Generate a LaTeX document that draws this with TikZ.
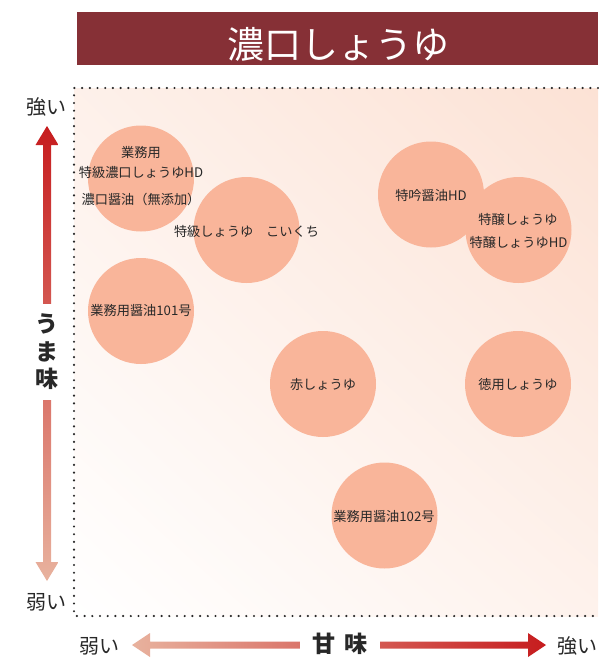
\documentclass[tikz,border=0pt]{standalone}
\usepackage{fontspec}
\setmainfont{Noto Sans CJK JP}
\usepackage{tikz}
\usetikzlibrary{positioning,calc,shadings}
\usepackage{xcolor}
\definecolor{barred}{RGB}{134,48,54}
\definecolor{soypink}{RGB}{249,181,154}
\definecolor{peach}{RGB}{252,226,213}
\definecolor{ink}{RGB}{40,40,40}
\definecolor{strongred}{RGB}{198,28,30}
\definecolor{weakpink}{RGB}{232,178,158}

\begin{document}
\begin{tikzpicture}[x=1pt, y=-1pt,
    soy/.style={circle, fill=soypink, minimum size=106pt, inner sep=0pt},
    brand/.style={text=ink, font=\fontsize{13.2pt}{15pt}\selectfont, inner sep=1pt},
    axislabel/.style={text=ink, font=\fontsize{20pt}{22pt}\selectfont, inner sep=0pt},
    axistitle/.style={fill=white, text=ink, font=\fontsize{23pt}{27.5pt}\selectfont\bfseries}]
            \useasboundingbox (0,0) rectangle (598,661);

            % Title bar
            \fill[barred] (77,12) rectangle (598,65);
            \node[text=white, font=\fontsize{37pt}{40pt}\selectfont] (title) at (338,44) {濃口しょうゆ};

            % Chart area
            \shade[upper right=peach, lower left=white, upper left=peach!50!white, lower right=peach!45!white] (74,88) rectangle (598,616);
            \draw[ink, line width=2.4pt, line cap=round, dash pattern=on 0pt off 7.7pt] (598,88) -- (74,88) -- (74,616) -- (598,616);

            % Circles
            \node[soy] (c1) at (141,178.5) {};
            \node[soy] (c2) at (246.5,230) {};
            \node[soy] (c3) at (141,311) {};
            \node[soy] (c4) at (431,194.5) {};
            \node[soy] (c5) at (518.5,230) {};
            \node[soy] (c6) at (323,384) {};
            \node[soy] (c7) at (518,384) {};
            \node[soy] (c8) at (384.5,515.5) {};

            % Brands
            \node[brand] (gyomu) at (141,153) {業務用};
            \node[brand] (gyomuhd) at (141,172) {特級濃口しょうゆHD};
            \node[brand] (mutenka) at (141,199) {濃口醤油（無添加）};
            \node[brand] (koikuchi) at (246.5,231) {特級しょうゆ\hspace{13pt}こいくち};
            \node[brand] (tokugin) at (431,195) {特吟醤油HD};
            \node[brand] (tokujo) at (518,219) {特醸しょうゆ};
            \node[brand] (tokujohd) at (518.5,242) {特醸しょうゆHD};
            \node[brand] (no101) at (141,311) {業務用醤油101号};
            \node[brand] (aka) at (323,385) {赤しょうゆ};
            \node[brand] (tokuyo) at (518,385) {徳用しょうゆ};
            \node[brand] (no102) at (384,517) {業務用醤油102号};

            % Umami axis
            \coordinate (umaHi) at (47,126);
            \coordinate (umaLo) at (47,581);
            \shade[top color=strongred, bottom color=weakpink] (umaHi) -- ++(11.5,19) -- ++(-7.5,0) -- ++(0,417) -- ++(7.5,0) -- (umaLo)
                -- ++(-11.5,-19) -- ++(7.5,0) -- ++(0,-417) -- ++(-7.5,0) -- cycle;
            \node[axistitle, align=center, inner xsep=3pt, inner ysep=10.5pt] (uma) at (47,352) {う\\ま\\味};
            \node[axislabel] (umaStrong) at (47,107) {強い};
            \node[axislabel] (umaWeak) at (47,602) {弱い};

            % Sweetness axis
            \coordinate (amaLo) at (132,645);
            \coordinate (amaHi) at (546,645);
            \shade[left color=weakpink, right color=strongred] (amaLo) -- ++(18,-12) -- ++(0,8.5) -- ++(378,0) -- ++(0,-8.5) -- (amaHi)
                -- ++(-18,12) -- ++(0,-8.5) -- ++(-378,0) -- ++(0,8.5) -- cycle;
            \node[axistitle, inner xsep=12pt, inner ysep=2pt] (ama) at (340,644) {甘\hspace{10pt}味};
            \node[axislabel] (amaWeak) at (99,646) {弱い};
            \node[axislabel] (amaStrong) at (577,646) {強い};
        \end{tikzpicture}
\end{document}
